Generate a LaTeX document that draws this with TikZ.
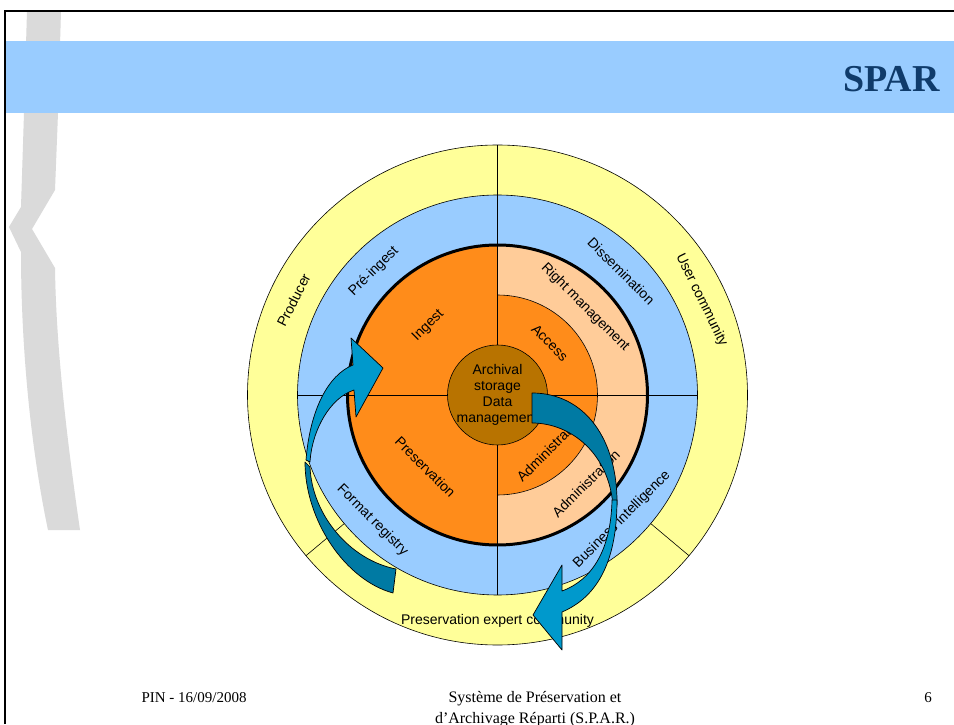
\documentclass[tikz,border=0pt]{standalone}
\usepackage{fontspec}
\setmainfont{Liberation Serif}
\setsansfont{Liberation Sans}
\usepackage{xcolor}
\usetikzlibrary{calc}

\definecolor{titleblue}{HTML}{99CCFF}
\definecolor{titleink}{HTML}{0F3B6B}
\definecolor{decogray}{HTML}{DADADA}
\definecolor{ringyellow}{HTML}{FFFF99}
\definecolor{ringblue}{HTML}{99CCFF}
\definecolor{coreorange}{HTML}{FF8C1A}
\definecolor{peach}{HTML}{FFCC99}
\definecolor{storebrown}{HTML}{B87300}
\definecolor{arrowlight}{HTML}{0099CC}
\definecolor{arrowdark}{HTML}{007AA3}

\begin{document}
\begin{tikzpicture}[
  x=1pt, y=1pt,
  ring/.style={draw=black, line width=0.6pt},
  lbl/.style={font=\sffamily\fontsize{14}{16}\selectfont, inner sep=0pt},
  foot/.style={font=\fontsize{15}{18}\selectfont, inner sep=0pt},
  arrowfront/.style={fill=arrowlight, draw=black, line width=0.7pt, line join=round},
  arrowback/.style={fill=arrowdark, draw=black, line width=0.7pt, line join=round}
]
\useasboundingbox (0,0) rectangle (954,724);
\fill[white] (0,0) rectangle (954,724);

% ---- SLIDE BACKGROUND ----
\fill[decogray] (27,713) -- (24,611) -- (21,517) -- (9,497) -- (21,472)
  .. controls (21,380) and (30,280) .. (48,194) -- (80,194)
  .. controls (66,290) and (56,380) .. (55,456) -- (32,495) -- (55,534)
  -- (58,611) -- (61,713) -- cycle;
\fill[titleblue] (6,611) rectangle (954,683);
\node[font=\bfseries\fontsize{38}{40}\selectfont, text=titleink, anchor=base east,
      inner sep=0pt] (title) at (940,632) {SPAR};
\draw[line width=2pt] (5,0) -- (5,713) -- (954,713);

% ---- RINGS ----
\coordinate (c) at (497.5,329);
\filldraw[ring, fill=ringyellow] (c) circle[radius=250];
\filldraw[ring, fill=ringblue] (c) circle[radius=200];
\foreach \a in {90,220,320}
  \draw[ring] ($(c)+(\a:200)$) -- ($(c)+(\a:250)$);
\foreach \a in {0,90,180,270}
  \draw[ring] ($(c)+(\a:150)$) -- ($(c)+(\a:200)$);

% ---- CORE ----
\fill[coreorange] (c) circle[radius=150];
\fill[peach] ($(c)+(0,150)$) arc[start angle=90, end angle=-90, radius=150]
  -- ($(c)+(0,-100)$) arc[start angle=-90, end angle=90, radius=100] -- cycle;
\draw[ring] ($(c)+(0,100)$) arc[start angle=90, end angle=-90, radius=100];
\draw[ring] ($(c)+(-150,0)$) -- ($(c)+(150,0)$);
\draw[ring] ($(c)+(0,-150)$) -- ($(c)+(0,150)$);
\filldraw[ring, fill=storebrown] (c) circle[radius=50];
\draw[line width=3pt] (c) circle[radius=150];

% ---- LABELS ----
\node[lbl, align=center] (store) at (c) {Archival\\storage\\Data\\management};
\node[lbl, rotate=63] (producer) at ($(c)+(155:225)$) {Producer};
\node[lbl, rotate=-64] (users) at ($(c)+(25:225)$) {User community};
\node[lbl] (experts) at ($(c)+(270:226)$) {Preservation expert community};
\node[lbl, rotate=45] (preingest) at ($(c)+(135:175)$) {Pré-ingest};
\node[lbl, rotate=-45] (dissem) at ($(c)+(45:175)$) {Dissemination};
\node[lbl, rotate=-45] (formats) at ($(c)+(225:177)$) {Format registry};
\node[lbl, rotate=45] (business) at ($(c)+(315:176)$) {Business intelligence};
\node[lbl, rotate=45] (ingest) at ($(c)+(135:98)$) {Ingest};
\node[lbl, rotate=-45] (preserv) at ($(c)+(225:102)$) {Preservation};
\node[lbl, rotate=-45] (rights) at ($(c)+(45:124)$) {Right management};
\node[lbl, rotate=-45] (access) at ($(c)+(45:74)$) {Access};
\node[lbl, rotate=45] (admout) at ($(c)+(315:125)$) {Administration};
\node[lbl, rotate=45] (admin) at ($(c)+(315:75)$) {Administration};

% ---- CYCLE ARROWS ----
\filldraw[arrowback] (396,155) -- (393,131) .. controls (345,144) and (305,204) .. (305,262)
  -- (310,257) .. controls (312,209) and (350,164) .. (396,155) -- cycle;
\filldraw[arrowfront] (306,264) .. controls (310,314) and (328,349) .. (353,359)
  -- (351,386) -- (383,356) -- (356,307) -- (354,334)
  .. controls (330,326) and (312,294) .. (310,262) -- cycle;
\filldraw[arrowback] (532,331) .. controls (585,331) and (618,284) .. (617,219)
  -- (613,217) .. controls (610,269) and (572,301) .. (532,301) -- cycle;
\filldraw[arrowfront] (612,224) .. controls (611,174) and (592,144) .. (562,133)
  -- (562,159) -- (533,109) -- (562,74) -- (562,112)
  .. controls (595,126) and (617,159) .. (617,224) -- cycle;

% ---- FOOTER ----
\node[foot, anchor=base] (date) at (194,22) {PIN - 16/09/2008};
\node[foot, anchor=base, font=\fontsize{16}{18}\selectfont] (name1) at (535,22) {Système de Préservation et};
\node[foot, anchor=base, font=\fontsize{16}{18}\selectfont] (name2) at (535,1) {d’Archivage Réparti (S.P.A.R.)};
\node[foot, anchor=base] (page) at (928,22) {6};
\end{tikzpicture}
\end{document}
